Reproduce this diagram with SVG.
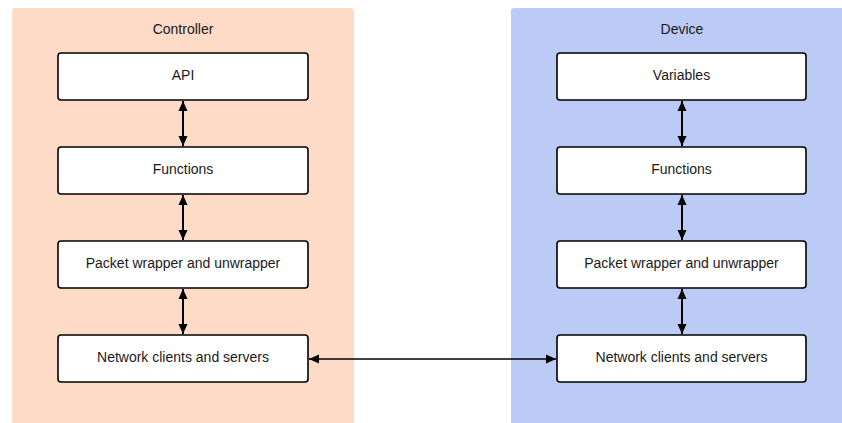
<svg xmlns="http://www.w3.org/2000/svg" width="842" height="423" viewBox="0 0 842 423">
  <defs>
    <style>
      .lane-c { fill: #fddbc7; }
      .lane-d { fill: #bbcbf5; }
      .box { fill: #ffffff; stroke: #000000; stroke-width: 1.6; }
      .label { font-family: "Liberation Sans", Arial, sans-serif; font-size: 14px; fill: #1a1a1a; text-anchor: middle; dominant-baseline: central; }
      .link { stroke: #000000; fill: none; }
      .v { stroke-width: 2; }
      .h { stroke-width: 1.5; }
    </style>
    <marker id="head" viewBox="0 0 10 10" refX="10" refY="5" markerWidth="10" markerHeight="10" markerUnits="userSpaceOnUse" orient="auto-start-reverse">
      <path d="M0,0.5 L10,5 L0,9.5 Z" fill="#000000"/>
    </marker>
  </defs>

  <!-- swimlanes -->
  <g id="controller">
    <rect class="lane-c" x="12" y="8" width="342" height="420" rx="3"/>
    <text class="label" x="183" y="29">Controller</text>
  </g>
  <g id="device">
    <rect class="lane-d" x="511" y="8" width="336" height="420" rx="3"/>
    <text class="label" x="682" y="29">Device</text>
  </g>

  <!-- controller stack -->
  <g id="c-api">
    <rect class="box" x="58" y="53" width="250" height="47" rx="3"/>
    <text class="label" x="183" y="74.5">API</text>
  </g>
  <g id="c-functions">
    <rect class="box" x="58" y="147" width="250" height="47" rx="3"/>
    <text class="label" x="183" y="168.5">Functions</text>
  </g>
  <g id="c-packet">
    <rect class="box" x="58" y="241" width="250" height="47" rx="3"/>
    <text class="label" x="183" y="262.5">Packet wrapper and unwrapper</text>
  </g>
  <g id="c-network">
    <rect class="box" x="58" y="335" width="250" height="47" rx="3"/>
    <text class="label" x="183" y="356.5">Network clients and servers</text>
  </g>

  <!-- device stack -->
  <g id="d-variables">
    <rect class="box" x="557" y="53" width="249" height="47" rx="3"/>
    <text class="label" x="681.5" y="74.5">Variables</text>
  </g>
  <g id="d-functions">
    <rect class="box" x="557" y="147" width="249" height="47" rx="3"/>
    <text class="label" x="681.5" y="168.5">Functions</text>
  </g>
  <g id="d-packet">
    <rect class="box" x="557" y="241" width="249" height="47" rx="3"/>
    <text class="label" x="681.5" y="262.5">Packet wrapper and unwrapper</text>
  </g>
  <g id="d-network">
    <rect class="box" x="557" y="335" width="249" height="47" rx="3"/>
    <text class="label" x="681.5" y="356.5">Network clients and servers</text>
  </g>

  <!-- connectors -->
  <g id="connectors">
    <line class="link v" x1="183" y1="101" x2="183" y2="146" marker-start="url(#head)" marker-end="url(#head)"/>
    <line class="link v" x1="183" y1="195" x2="183" y2="240" marker-start="url(#head)" marker-end="url(#head)"/>
    <line class="link v" x1="183" y1="289" x2="183" y2="334" marker-start="url(#head)" marker-end="url(#head)"/>
    <line class="link v" x1="682" y1="101" x2="682" y2="146" marker-start="url(#head)" marker-end="url(#head)"/>
    <line class="link v" x1="682" y1="195" x2="682" y2="240" marker-start="url(#head)" marker-end="url(#head)"/>
    <line class="link v" x1="682" y1="289" x2="682" y2="334" marker-start="url(#head)" marker-end="url(#head)"/>
    <line class="link h" x1="309" y1="359" x2="556" y2="359" marker-start="url(#head)" marker-end="url(#head)"/>
  </g>
</svg>
